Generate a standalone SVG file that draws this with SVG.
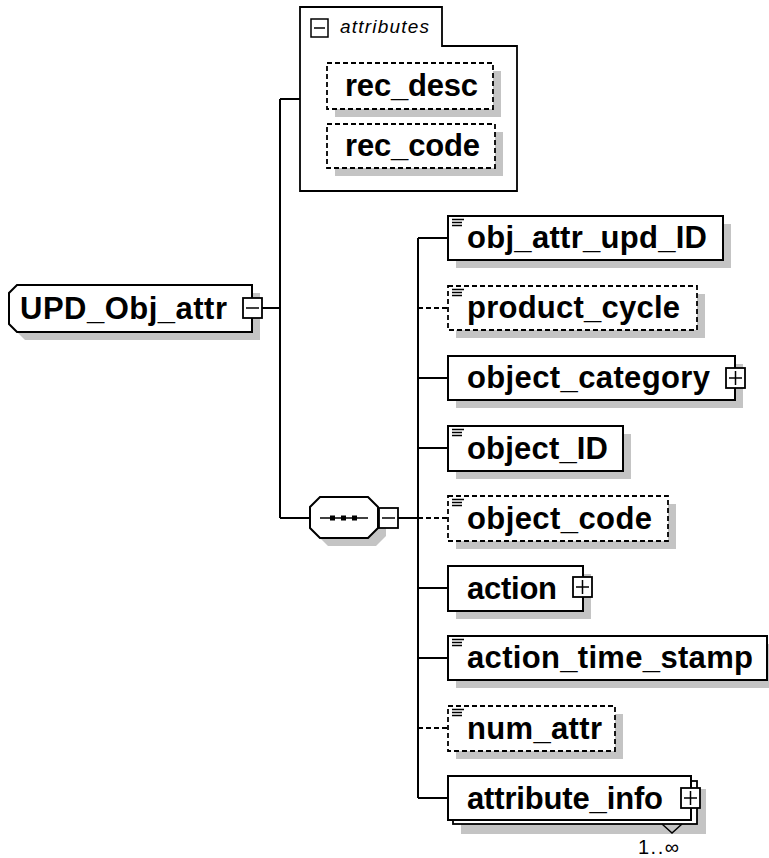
<svg xmlns="http://www.w3.org/2000/svg" width="769" height="858" viewBox="0 0 769 858">
<style>
.bg{fill:#ffffff}
.sh{fill:#c4c4c4;stroke:none}
.box{fill:#ffffff;stroke:#000;stroke-width:2}
.opt{fill:#ffffff;stroke:#000;stroke-width:1.8;stroke-dasharray:5,3}
.ln{fill:none;stroke:#000;stroke-width:2}
.dln{fill:none;stroke:#000;stroke-width:1.8;stroke-dasharray:5,3}
.thin{fill:none;stroke:#000;stroke-width:1.5}
.t{font-family:"Liberation Sans",Arial,sans-serif;font-weight:bold;font-size:31px;fill:#000}
.it{font-family:"Liberation Sans",Arial,sans-serif;font-style:italic;font-size:19px;fill:#000}
.m{font-family:"Liberation Sans",Arial,sans-serif;font-size:20px;fill:#000}
</style>
<defs>
<g id="ico"><path d="M452 219.5h12M452 222.5h10M452 225.5h10" stroke="#000" stroke-width="1.3" fill="none"/></g>
</defs>
<rect class="bg" x="0" y="0" width="769" height="858"/>

<g id="connectors">
<path class="ln" d="M262 308H280M280 99V518M280 99H300M280 518H310M398 518H418M418 238V798"/>
<path class="ln" d="M418 238H448M418 378H448M418 448H448M418 588H448M418 658H448M418 798H448"/>
<path class="dln" d="M418 308H448M418 518H448M418 728H448"/>
</g>

<g id="attributes">
<path class="thin" style="stroke-width:1.8" d="M300 7H442V46H517V191H300Z"/>
<rect class="thin" x="311" y="19" width="17" height="18" fill="#fff"/>
<path class="thin" d="M314 28H325"/>
<text class="it" x="340" y="33" textLength="89" lengthAdjust="spacing">attributes</text>
<g id="rec_desc">
<rect class="sh" x="335" y="71" width="166" height="46"/>
<rect class="opt" x="327" y="63" width="166" height="46"/>
<text class="t" x="345" y="96" textLength="133" lengthAdjust="spacing">rec_desc</text>
</g>
<g id="rec_code">
<rect class="sh" x="335" y="132" width="168" height="44"/>
<rect class="opt" x="327" y="124" width="168" height="44"/>
<text class="t" x="345" y="156" textLength="135" lengthAdjust="spacing">rec_code</text>
</g>
</g>

<g id="UPD_Obj_attr">
<path class="sh" d="M25 293H260V340H25L17 332V301Z"/>
<path class="box" d="M17 285H252V332H17L9 324V293Z"/>
<text class="t" x="20" y="318.5" textLength="207" lengthAdjust="spacing">UPD_Obj_attr</text>
<rect class="box" x="243" y="298" width="19" height="20" style="stroke-width:1.8"/>
<path class="thin" d="M246 308H259"/>
</g>

<g id="sequence">
<path class="sh" d="M328 505H376L386 515V536L376 546H328L318 536V515Z"/>
<path class="box" d="M320 497H368L378 507V528L368 538H320L310 528V507Z"/>
<path class="thin" style="stroke-width:1.6" d="M320 518H368"/>
<rect x="330" y="515.5" width="5" height="5" fill="#000"/>
<rect x="341" y="515.5" width="5" height="5" fill="#000"/>
<rect x="352" y="515.5" width="5" height="5" fill="#000"/>
<rect class="box" x="379" y="508" width="19" height="20" style="stroke-width:1.8"/>
<path class="thin" d="M382 518H395"/>
</g>

<g id="obj_attr_upd_ID">
<rect class="sh" x="456" y="224" width="275" height="44"/>
<rect class="box" x="448" y="216" width="275" height="44"/>
<use href="#ico"/>
<text class="t" x="467" y="248" textLength="240" lengthAdjust="spacing">obj_attr_upd_ID</text>
</g>

<g id="product_cycle">
<rect class="sh" x="456" y="294" width="249" height="44"/>
<rect class="opt" x="448" y="286" width="249" height="44"/>
<use href="#ico" y="70"/>
<text class="t" x="467" y="318" textLength="213" lengthAdjust="spacing">product_cycle</text>
</g>

<g id="object_category">
<rect class="sh" x="456" y="364" width="287" height="44"/>
<rect class="box" x="448" y="356" width="287" height="44"/>
<text class="t" x="467" y="388" textLength="243" lengthAdjust="spacing">object_category</text>
<rect class="box" x="726" y="368" width="19" height="20" style="stroke-width:1.8"/>
<path class="thin" d="M729 378H742M735.5 371V385"/>
</g>

<g id="object_ID">
<rect class="sh" x="456" y="434" width="175" height="45"/>
<rect class="box" x="448" y="426" width="175" height="45"/>
<use href="#ico" y="210"/>
<text class="t" x="467" y="458.5" textLength="141" lengthAdjust="spacing">object_ID</text>
</g>

<g id="object_code">
<rect class="sh" x="456" y="504" width="220" height="45"/>
<rect class="opt" x="448" y="496" width="220" height="45"/>
<use href="#ico" y="280"/>
<text class="t" x="467" y="528.5" textLength="185" lengthAdjust="spacing">object_code</text>
</g>

<g id="action">
<rect class="sh" x="456" y="574" width="135" height="45"/>
<rect class="box" x="448" y="566" width="135" height="45"/>
<text class="t" x="467" y="598.5" textLength="90" lengthAdjust="spacing">action</text>
<rect class="box" x="573" y="577" width="19" height="20" style="stroke-width:1.8"/>
<path class="thin" d="M576 587H589M582.5 580V594"/>
</g>

<g id="action_time_stamp">
<rect class="sh" x="456" y="644" width="319" height="44"/>
<rect class="box" x="448" y="636" width="319" height="44"/>
<use href="#ico" y="420"/>
<text class="t" x="467" y="668" textLength="286" lengthAdjust="spacing">action_time_stamp</text>
</g>

<g id="num_attr">
<rect class="sh" x="456" y="714" width="167" height="45"/>
<rect class="opt" x="448" y="706" width="167" height="45"/>
<use href="#ico" y="490"/>
<text class="t" x="467" y="738.5" textLength="135" lengthAdjust="spacing">num_attr</text>
</g>

<g id="attribute_info">
<rect class="sh" x="461" y="789" width="245" height="45"/>
<rect class="box" x="453" y="781" width="244" height="43" style="stroke-width:1.8"/>
<rect class="box" x="448" y="776" width="243" height="44"/>
<text class="t" x="467" y="808.5" textLength="196" lengthAdjust="spacing">attribute_info</text>
<rect class="box" x="681" y="788" width="19" height="20" style="stroke-width:1.8"/>
<path class="thin" d="M684 798H697M690.5 791V805"/>
<path class="thin" d="M662 824L672 833L682 824" fill="#fff"/>
<text class="m" x="638" y="854" textLength="41" lengthAdjust="spacing">1..∞</text>
</g>
</svg>
